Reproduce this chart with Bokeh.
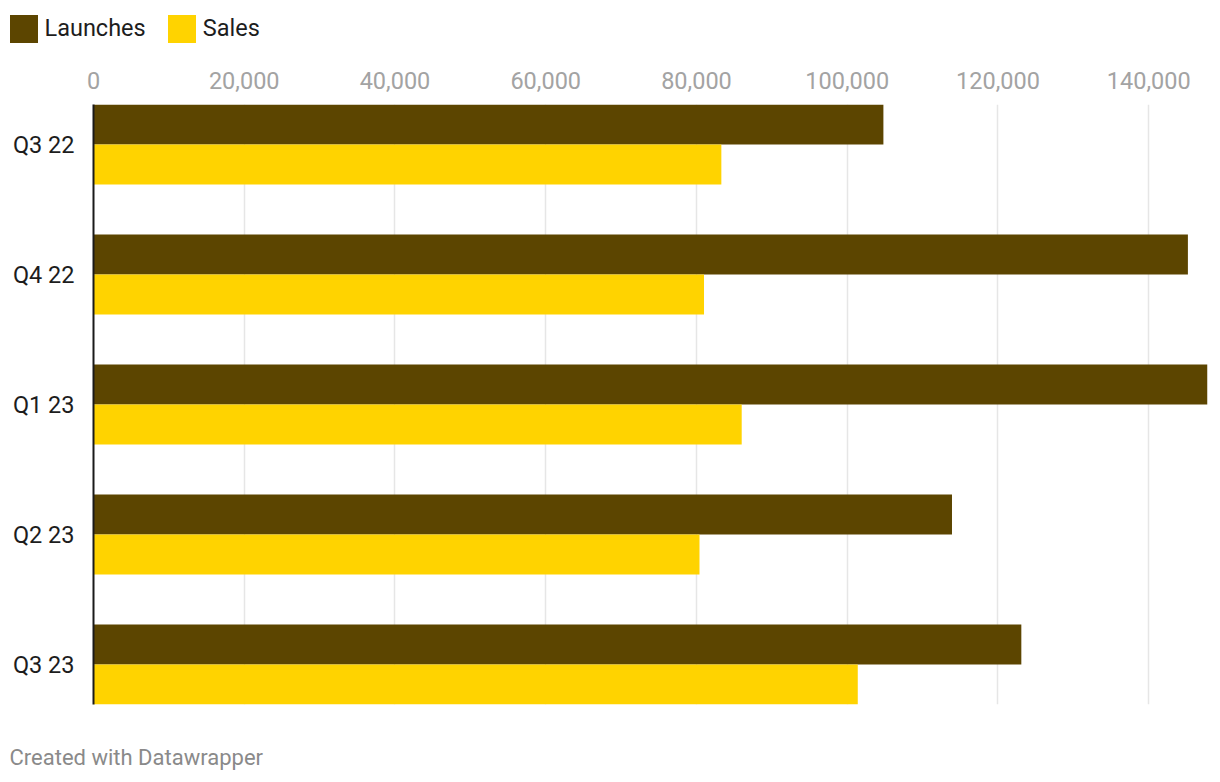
from bokeh.plotting import figure
from bokeh.layouts import column
from bokeh.models import (Range1d, FixedTicker, NumeralTickFormatter, Legend, LegendItem,
                          Label, ColumnDataSource)
from bokeh.embed import file_html
from bokeh.resources import INLINE

quarters = ["Q3 22", "Q4 22", "Q1 23", "Q2 23", "Q3 23"]
launches = [104800, 145200, 147800, 113900, 123100]
sales = [83300, 81000, 86000, 80400, 101400]
x_ticks = [0, 20000, 40000, 60000, 80000, 100000, 120000, 140000]
series = ["Launches", "Sales"]
credit = "Created with Datawrapper"

LAUNCH_COLOR = "#5c4500"
SALES_COLOR = "#ffd300"
FONT = "Roboto"
FS = "23.5px"

bar_h = 40 / 130  # bar thickness relative to group spacing
idx = list(range(len(quarters)))

src = ColumnDataSource(dict(
    q=quarters,
    y_l=[i - bar_h / 2 for i in idx],
    y_s=[i + bar_h / 2 for i in idx],
    launches=launches,
    sales=sales,
))


def strip(height):
    f = figure(width=1212, height=height, output_backend="svg", toolbar_location=None,
               x_range=Range1d(0, 1), y_range=Range1d(0, 1),
               min_border_left=0, min_border_right=0, min_border_top=0, min_border_bottom=0)
    f.frame_align = False
    f.axis.visible = False
    f.grid.visible = False
    f.outline_line_color = None
    return f


# ---------- legend strip ----------
lg = strip(52)
# zero-length keys only used to carry the legend swatches
k1 = lg.hbar(y=[0.5], left=[0], right=[0], height=1, fill_color=LAUNCH_COLOR, line_color=None)
k2 = lg.hbar(y=[0.5], left=[0], right=[0], height=1, fill_color=SALES_COLOR, line_color=None)
legend = Legend(items=[LegendItem(label=series[0], renderers=[k1]),
                       LegendItem(label=series[1], renderers=[k2])],
                orientation="horizontal", location=(5.5, 6.5),
                padding=0, margin=0, spacing=18, label_standoff=4,
                glyph_width=35, glyph_height=35,
                label_text_font=FONT, label_text_font_size=FS,
                label_text_color="#1d1d1d", label_text_baseline="middle",
                border_line_color=None, background_fill_alpha=0)
lg.add_layout(legend, "center")

# ---------- main chart ----------
p = figure(width=1212, height=662, output_backend="svg", toolbar_location=None,
           x_range=Range1d(0, max(launches)),
           y_range=Range1d(len(quarters) - 1 + bar_h, -bar_h),
           x_axis_location="above",
           min_border_left=93, min_border_right=5, min_border_top=52, min_border_bottom=10)
p.outline_line_color = None
p.background_fill_color = "white"

p.hbar(y="y_l", left=0, right="launches", height=bar_h, source=src,
       fill_color=LAUNCH_COLOR, line_color=None)
p.hbar(y="y_s", left=0, right="sales", height=bar_h, source=src,
       fill_color=SALES_COLOR, line_color=None)

xa = p.xaxis[0]
xa.ticker = FixedTicker(ticks=x_ticks)
xa.formatter = NumeralTickFormatter(format="0,0")
xa.axis_line_color = None
xa.major_tick_line_color = None
xa.minor_tick_line_color = None
xa.major_label_text_color = "#a3a3a3"
xa.major_label_text_font = FONT
xa.major_label_text_font_size = FS
xa.major_label_standoff = 10

ya = p.yaxis[0]
ya.ticker = FixedTicker(ticks=idx)
ya.major_label_overrides = {i: q for i, q in zip(idx, quarters)}
ya.axis_line_color = "#1a1a1a"
ya.axis_line_width = 2
ya.major_tick_line_color = None
ya.minor_tick_line_color = None
ya.major_label_text_color = "#1d1d1d"
ya.major_label_text_font = FONT
ya.major_label_text_font_size = FS
ya.major_label_standoff = 13

p.xgrid.grid_line_color = "#e6e6e6"
p.xgrid.grid_line_width = 1.5
p.ygrid.grid_line_color = None

# ---------- footer strip ----------
ft = strip(66)
ft.add_layout(Label(x=9, y=23, x_units="screen", y_units="screen", text=credit,
                    text_font=FONT, text_font_size="22px", text_color="#8a8a8a",
                    text_baseline="middle", text_align="left"))

layout = column(lg, p, ft, spacing=0)
open("out.html", "w").write(file_html(layout, INLINE))
